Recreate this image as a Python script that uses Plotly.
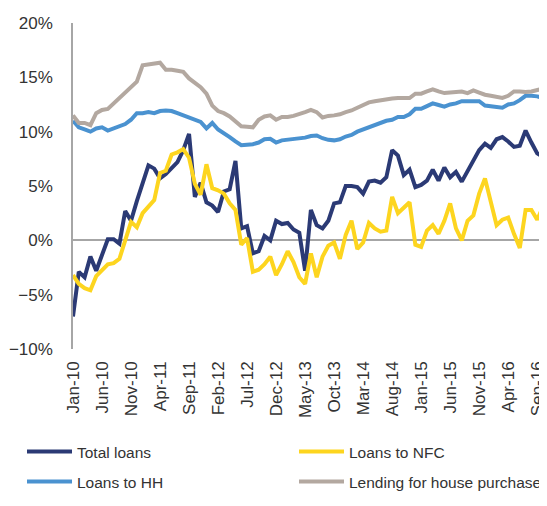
import plotly.graph_objects as go
import pandas as pd

months = list(pd.date_range("2010-01-01", periods=82, freq="MS").strftime("%b-%y"))
tick_labels = ["Jan-10", "Jun-10", "Nov-10", "Apr-11", "Sep-11", "Feb-12", "Jul-12", "Dec-12",
               "May-13", "Oct-13", "Mar-14", "Aug-14", "Jan-15", "Jun-15", "Nov-15", "Apr-16", "Sep-16"]

total_loans = [-7.0, -2.9, -3.4, -1.5, -2.8, -1.4, 0.1, 0.1, -0.3, 2.7,
               1.8, 3.6, 5.3, 6.9, 6.6, 5.7, 6.1, 6.6, 7.2, 8.3,
               9.8, 4.0, 5.3, 3.5, 3.2, 2.6, 4.5, 4.7, 7.3, 1.1,
               1.3, -1.2, -1.0, 0.4, 0.0, 1.8, 1.5, 1.6, 1.0, 0.7,
               -2.8, 2.8, 1.4, 1.1, 1.8, 3.4, 3.5, 5.0, 5.0, 4.9,
               4.3, 5.4, 5.5, 5.3, 5.8, 8.3, 7.8, 6.0, 6.5, 4.9,
               5.1, 5.5, 6.5, 5.5, 6.7, 5.8, 6.3, 5.4, 6.4, 7.4,
               8.3, 8.9, 8.5, 9.3, 9.5, 9.1, 8.6, 8.7, 10.1, 9.0,
               8.0, 7.7]

loans_nfc = [-3.2, -4.0, -4.4, -4.6, -3.3, -2.8, -2.2, -2.1, -1.7, 0.0,
             1.7, 1.2, 2.5, 3.1, 3.7, 6.2, 6.4, 7.9, 8.1, 8.4,
             7.6, 5.2, 4.2, 7.0, 4.8, 4.6, 4.3, 3.4, 2.8, -0.4,
             0.2, -2.9, -2.7, -2.2, -1.5, -3.2, -2.2, -1.0, -2.0, -3.4,
             -4.0, -1.2, -3.4, -1.5, -0.5, -0.2, -1.7, 0.5, 1.8, -0.8,
             -0.2, 1.6, 1.1, 0.8, 0.9, 4.0, 2.5, 3.0, 3.5, -0.4,
             -0.6, 0.9, 1.4, 0.6, 1.8, 3.4, 1.1, 0.0, 1.8, 2.3,
             4.3, 5.7, 3.7, 1.4, 1.9, 2.1, 0.6, -0.7, 2.8, 2.8,
             1.9, 3.1]

loans_hh = [11.0, 10.4, 10.2, 10.0, 10.3, 10.4, 10.1, 10.3, 10.5, 10.7,
            11.1, 11.7, 11.7, 11.8, 11.7, 11.9, 11.95, 11.9, 11.7, 11.5,
            11.3, 11.1, 10.9, 10.3, 10.8, 10.2, 9.9, 9.5, 9.1, 8.75,
            8.8, 8.85, 9.0, 9.3, 9.35, 9.0, 9.2, 9.25, 9.3, 9.4,
            9.45, 9.6, 9.65, 9.4, 9.25, 9.2, 9.3, 9.55, 9.7, 10.0,
            10.2, 10.4, 10.6, 10.8, 11.0, 11.1, 11.35, 11.35, 11.6, 12.1,
            12.1, 12.35, 12.6, 12.45, 12.3, 12.5, 12.6, 12.8, 12.8, 12.75,
            12.8, 12.4, 12.35, 12.25, 12.2, 12.5, 12.6, 12.9, 13.3, 13.3,
            13.25, 13.1]

house_purchase = [11.5, 10.8, 10.8, 10.6, 11.7, 12.0, 12.1, 12.6, 13.1, 13.6,
                  14.0, 14.6, 16.1, 16.2, 16.25, 16.35, 15.7, 15.7, 15.6, 15.5,
                  14.9, 14.5, 14.1, 13.5, 12.4, 11.9, 11.7, 11.4, 11.0, 10.5,
                  10.45, 10.4, 11.1, 11.4, 11.5, 11.1, 11.35, 11.35, 11.45, 11.6,
                  11.8, 12.0, 11.8, 11.3, 11.45, 11.5, 11.6, 11.8, 11.95, 12.2,
                  12.5, 12.7, 12.8, 12.9, 13.0, 13.05, 13.1, 13.1, 13.1, 13.5,
                  13.5, 13.7, 13.9, 13.7, 13.55, 13.6, 13.65, 13.7, 13.55, 13.8,
                  13.6, 13.4, 13.3, 13.2, 13.1, 13.3, 13.7, 13.7, 13.65, 13.7,
                  13.85, 13.95]

series = [
    ("Total loans", total_loans, "#2B3A75", "legend"),
    ("Loans to NFC", loans_nfc, "#FDD51F", "legend2"),
    ("Loans to HH", loans_hh, "#4A92D0", "legend3"),
    ("Lending for house purchase", house_purchase, "#B3A8A0", "legend4"),
]

FONT = "Liberation Sans, Arial, sans-serif"
TXT = "#333333"
fig = go.Figure()
for name, vals, color, leg in series:
    fig.add_trace(go.Scatter(x=months, y=vals, mode="lines", name=name, legend=leg,
                             line=dict(color=color, width=4)))

# the page has an 8px body margin: the figure is shrunk and shifted accordingly
OFF = 8
W, H = 547 - OFF, 506 - 2 * OFF
L, R, T = 73 - OFF, 4, 23 - OFF
B = H - (349 - OFF)
pw, ph = W - L - R, H - T - B

def px_x(p):  # page pixel -> paper x
    return (p - OFF - L) / pw

def px_y(p):  # page pixel -> paper y
    return (H - B - (p - OFF)) / ph

legend_common = dict(orientation="h", xanchor="left", yanchor="middle", itemwidth=45,
                     font=dict(family=FONT, size=15.5, color=TXT),
                     bgcolor="rgba(0,0,0,0)", borderwidth=0)

fig.update_layout(
    width=W, height=H,
    margin=dict(l=L, r=R, t=T, b=B, autoexpand=False),
    plot_bgcolor="white", paper_bgcolor="white",
    font=dict(family=FONT, size=17, color=TXT),
    showlegend=True,
    legend=dict(x=px_x(22), y=px_y(452), **legend_common),
    legend2=dict(x=px_x(294), y=px_y(452), **legend_common),
    legend3=dict(x=px_x(22), y=px_y(482), **legend_common),
    legend4=dict(x=px_x(294), y=px_y(482), **legend_common),
)
fig.update_xaxes(type="category", range=[0, 81], tickvals=tick_labels, ticktext=tick_labels,
                 tickangle=-90, showgrid=False, showline=False, zeroline=False,
                 ticks="", ticklabelstandoff=8, automargin=False,
                 tickfont=dict(family=FONT, size=17, color=TXT))
fig.update_yaxes(range=[-10, 20], dtick=5, ticksuffix="%", showgrid=False,
                 showline=True, linecolor="#A6A6A6", linewidth=1.5,
                 zeroline=True, zerolinecolor="#A6A6A6", zerolinewidth=1.5,
                 ticks="", ticklabelstandoff=15, automargin=False,
                 tickfont=dict(family=FONT, size=17, color=TXT))

fig.write_html("out.html")
